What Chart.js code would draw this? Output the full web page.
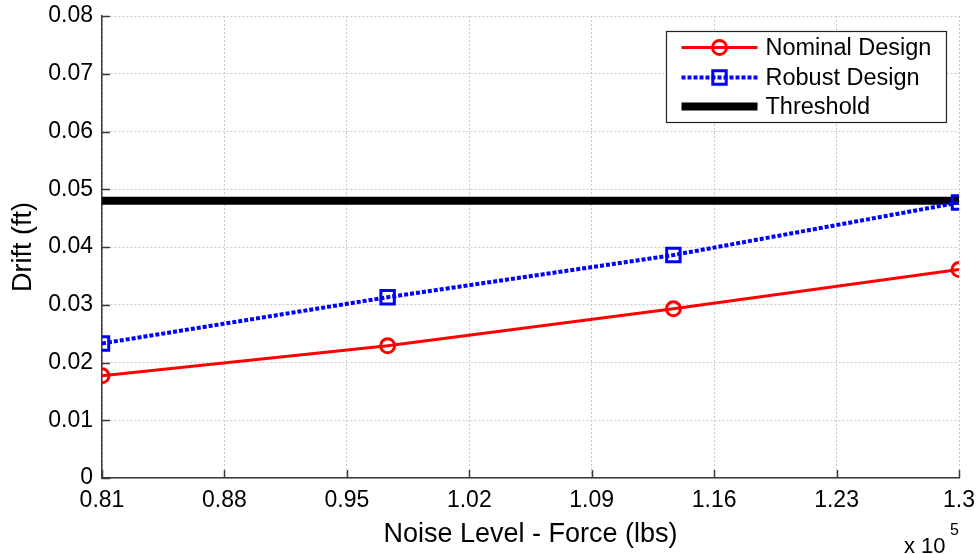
<!DOCTYPE html>
<html lang="en">
<head>
  <meta charset="UTF-8">
  <title>Drift vs Noise Level</title>
  <script src="https://cdn.jsdelivr.net/npm/chart.js"></script>
  <style>
    html, body { margin: 0; padding: 0; background: #fff; }
    #wrap { width: 979px; height: 554px; }
  </style>
</head>
<body>
<div id="wrap"><canvas id="grafico" width="979" height="554"></canvas></div>
<script>
// noise level in units of 10^5 lbs
const noiseLevels = [0.81, 0.9733, 1.1367, 1.3];
const nominalDrift = [0.0177, 0.0229, 0.0293, 0.0361];
const robustDrift = [0.0233, 0.0313, 0.0386, 0.0477];
const thresholdRange = [0.81, 1.3];
const thresholdDrift = [0.048, 0.048];

const xTicks = [0.81, 0.88, 0.95, 1.02, 1.09, 1.16, 1.23, 1.3];
const xTickLabels = ['0.81', '0.88', '0.95', '1.02', '1.09', '1.16', '1.23', '1.3'];
const yTicks = [0, 0.01, 0.02, 0.03, 0.04, 0.05, 0.06, 0.07, 0.08];
const yTickLabels = ['0', '0.01', '0.02', '0.03', '0.04', '0.05', '0.06', '0.07', '0.08'];

const FONT = "'Liberation Sans', Arial, sans-serif";
const AXIS_COLOR = '#3a3a3a';
Chart.defaults.font.family = FONT;
Chart.defaults.color = '#000';

const toPoints = (xs, ys) => xs.map((x, i) => ({ x: x, y: ys[i] }));

// fixed axis sizes, no extra room reserved for edge labels
const fixAxis = size => s => {
  if (s.isHorizontal()) s.height = size; else s.width = size;
  s.paddingTop = s.paddingBottom = s.paddingLeft = s.paddingRight = 0;
};

// inward tick marks (axes drawn without a box)
const innerTicks = {
  id: 'innerTicks',
  afterDraw(chart) {
    const { ctx, chartArea: a, scales: { x, y } } = chart;
    ctx.save();
    ctx.strokeStyle = AXIS_COLOR;
    ctx.lineWidth = 1.5;
    ctx.beginPath();
    xTicks.forEach(v => {
      const px = Math.round(x.getPixelForValue(v)) + 0.5;
      ctx.moveTo(px, a.bottom);
      ctx.lineTo(px, a.bottom - 8);
    });
    yTicks.forEach(v => {
      const py = Math.round(y.getPixelForValue(v)) + 0.5;
      ctx.moveTo(a.left, py);
      ctx.lineTo(a.left + 8, py);
    });
    ctx.stroke();

    // exponent under the x axis
    ctx.fillStyle = '#000';
    ctx.textBaseline = 'alphabetic';
    ctx.textAlign = 'left';
    ctx.font = '22px ' + FONT;
    ctx.fillText('x 10', 904, 553);
    ctx.font = '16px ' + FONT;
    ctx.fillText('5', 950, 535);
    ctx.restore();
  }
};

// boxed legend with line + marker samples
const boxLegend = {
  id: 'boxLegend',
  afterDraw(chart) {
    const { ctx } = chart;
    const box = { x: 666.5, y: 31.5, w: 280, h: 91 };
    ctx.save();
    ctx.fillStyle = '#fff';
    ctx.fillRect(box.x, box.y, box.w, box.h);
    ctx.strokeStyle = '#222';
    ctx.lineWidth = 1.2;
    ctx.strokeRect(box.x, box.y, box.w, box.h);

    const rows = [16, 46, 75];
    chart.data.datasets.forEach((ds, i) => {
      const cy = box.y + rows[i];
      const x1 = box.x + 15, x2 = box.x + 91, cx = (x1 + x2) / 2;
      ctx.strokeStyle = ds.borderColor;
      ctx.lineWidth = ds.borderWidth;
      ctx.setLineDash(ds.borderDash || []);
      ctx.beginPath();
      ctx.moveTo(x1, cy);
      ctx.lineTo(x2, cy);
      ctx.stroke();
      ctx.setLineDash([]);
      if (ds.pointRadius > 0) {
        ctx.lineWidth = ds.pointBorderWidth;
        ctx.beginPath();
        if (ds.pointStyle === 'circle') {
          ctx.arc(cx, cy, ds.pointRadius, 0, Math.PI * 2);
        } else {
          const h = ds.pointRadius * Math.SQRT1_2;
          ctx.rect(cx - h, cy - h, 2 * h, 2 * h);
        }
        ctx.stroke();
      }
      ctx.fillStyle = '#000';
      ctx.font = '23.5px ' + FONT;
      ctx.textBaseline = 'middle';
      ctx.textAlign = 'left';
      ctx.fillText(ds.label, box.x + 99, cy + 1);
    });
    ctx.restore();
  }
};

const ctx = document.getElementById('grafico').getContext('2d');
new Chart(ctx, {
  type: 'line',
  data: {
    datasets: [
      {
        label: 'Nominal Design',
        data: toPoints(noiseLevels, nominalDrift),
        borderColor: '#ff0000',
        borderWidth: 3,
        pointStyle: 'circle',
        pointRadius: 7,
        pointBorderWidth: 3,
        pointBorderColor: '#ff0000',
        pointBackgroundColor: 'rgba(0,0,0,0)'
      },
      {
        label: 'Robust Design',
        data: toPoints(noiseLevels, robustDrift),
        borderColor: '#0000ff',
        borderWidth: 4,
        borderDash: [4, 2],
        pointStyle: 'rect',
        pointRadius: 9.5,
        pointBorderWidth: 3,
        pointBorderColor: '#0000ff',
        pointBackgroundColor: 'rgba(0,0,0,0)'
      },
      {
        label: 'Threshold',
        data: toPoints(thresholdRange, thresholdDrift),
        borderColor: '#000000',
        borderWidth: 8,
        pointRadius: 0
      }
    ]
  },
  options: {
    responsive: false,
    animation: false,
    devicePixelRatio: 1,
    layout: { padding: { top: 16, right: 20, left: 0, bottom: 0 } },
    plugins: { legend: { display: false }, tooltip: { enabled: false } },
    elements: { line: { tension: 0 } },
    scales: {
      x: {
        type: 'linear',
        min: 0.81,
        max: 1.3,
        afterBuildTicks: s => { s.ticks = xTicks.map(v => ({ value: v })); },
        afterFit: fixAxis(76),
        ticks: {
          autoSkip: false,
          maxRotation: 0,
          padding: 9,
          font: { size: 23 },
          callback: (v, i) => xTickLabels[i]
        },
        grid: { color: '#c8c8c8', lineWidth: 1, drawTicks: false },
        border: { display: true, color: AXIS_COLOR, width: 1.5, dash: [2, 2] },
        title: {
          display: true,
          text: 'Noise Level - Force (lbs)',
          font: { size: 27 },
          padding: { top: 0, bottom: 3 }
        }
      },
      y: {
        min: 0,
        max: 0.08,
        afterBuildTicks: s => { s.ticks = yTicks.map(v => ({ value: v })); },
        afterFit: fixAxis(102),
        ticks: {
          autoSkip: false,
          padding: 9,
          font: { size: 23 },
          callback: (v, i) => yTickLabels[i]
        },
        grid: { color: '#c8c8c8', lineWidth: 1, drawTicks: false },
        border: { display: true, color: AXIS_COLOR, width: 1.5, dash: [2, 2] },
        title: {
          display: true,
          text: 'Drift (ft)',
          font: { size: 27 },
          padding: { top: 7, bottom: 0 }
        }
      }
    }
  },
  plugins: [innerTicks, boxLegend]
});
</script>
</body>
</html>
